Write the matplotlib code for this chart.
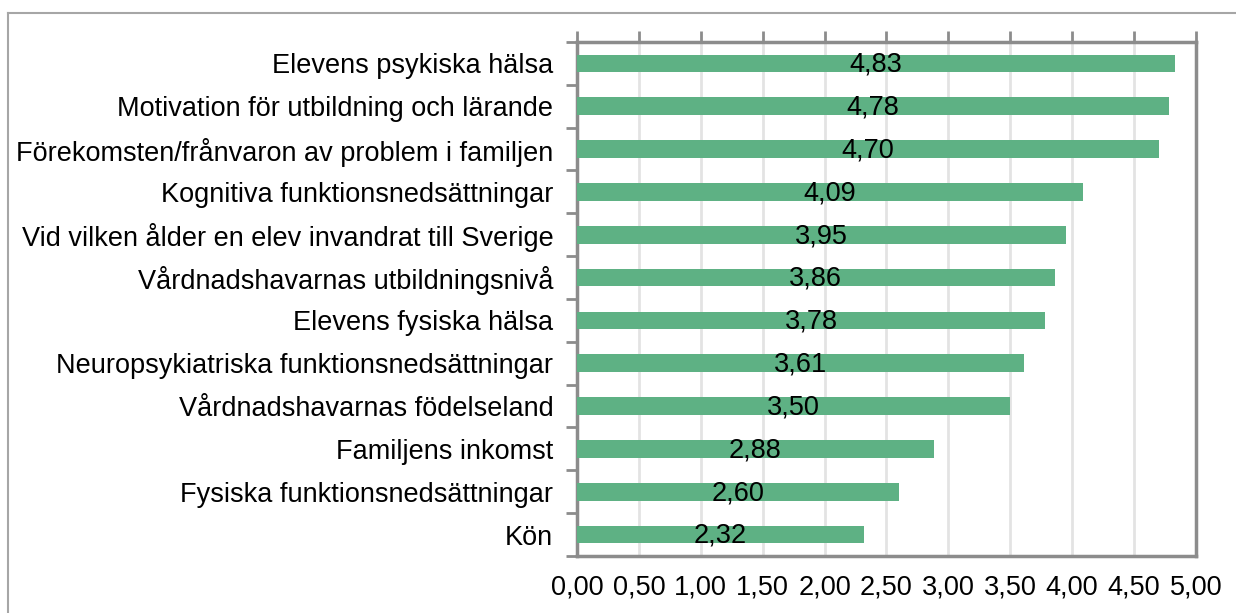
import matplotlib.pyplot as plt
from matplotlib.lines import Line2D
import numpy as np

plt.rcParams['font.family'] = ['Liberation Sans', 'DejaVu Sans']

# faktorer, uppifrån och ned
kategorier = [
    "Elevens psykiska hälsa",
    "Motivation för utbildning och lärande",
    "Förekomsten/frånvaron av problem i familjen",
    "Kognitiva funktionsnedsättningar",
    "Vid vilken ålder en elev invandrat till Sverige",
    "Vårdnadshavarnas utbildningsnivå",
    "Elevens fysiska hälsa",
    "Neuropsykiatriska funktionsnedsättningar",
    "Vårdnadshavarnas födelseland",
    "Familjens inkomst",
    "Fysiska funktionsnedsättningar",
    "Kön",
]
varden = [4.83, 4.78, 4.70, 4.09, 3.95, 3.86, 3.78, 3.61, 3.50, 2.88, 2.60, 2.32]
xticks = [0, 0.5, 1, 1.5, 2, 2.5, 3, 3.5, 4, 4.5, 5]

GRON = '#5EB184'
GRA = '#8C8C8C'
FS = 19.5

fig = plt.figure(figsize=(12.36, 6.13), dpi=100)
ax = fig.add_axes([0.4668, 0.093, 0.9676 - 0.4668, 0.9315 - 0.093])

y = np.arange(len(kategorier))
ax.barh(y, varden, height=0.41, color=GRON, zorder=3)
for yi, v in zip(y, varden):
    ax.text(v / 2, yi + 0.03, f"{v:.2f}".replace('.', ','), ha='center', va='center',
            fontsize=FS, color='black', zorder=4)

ax.set_xlim(0, 5)
ax.set_ylim(len(kategorier) - 0.5, -0.5)

ax.set_xticks(xticks)
ax.set_xticklabels([f"{t:.2f}".replace('.', ',') for t in xticks], fontsize=FS)
ax.tick_params(axis='x', bottom=False, top=True, labelbottom=True, labeltop=False,
               direction='out', length=8, width=2, color=GRA, pad=5)
ax.grid(axis='x', color='#E3E3E3', linewidth=2, zorder=0)

ax.set_yticks(y)
ax.set_yticklabels(kategorier, fontsize=FS)
ax.set_yticks(np.arange(-0.5, len(kategorier), 1), minor=True)
ax.tick_params(axis='y', which='major', length=0, pad=17)
ax.tick_params(axis='y', which='minor', length=8, width=2, color=GRA, direction='out')

for s in ax.spines.values():
    s.set_color(GRA)
    s.set_linewidth(2.5)

# ram runt hela figuren
fig.add_artist(Line2D([8 / 1236, 8 / 1236], [0, 1 - 13 / 613], color='#A6A6A6', lw=1.5,
                      transform=fig.transFigure))
fig.add_artist(Line2D([8 / 1236, 1], [1 - 13 / 613, 1 - 13 / 613], color='#A6A6A6', lw=1.5,
                      transform=fig.transFigure))

fig.savefig("out.png", dpi=100)
